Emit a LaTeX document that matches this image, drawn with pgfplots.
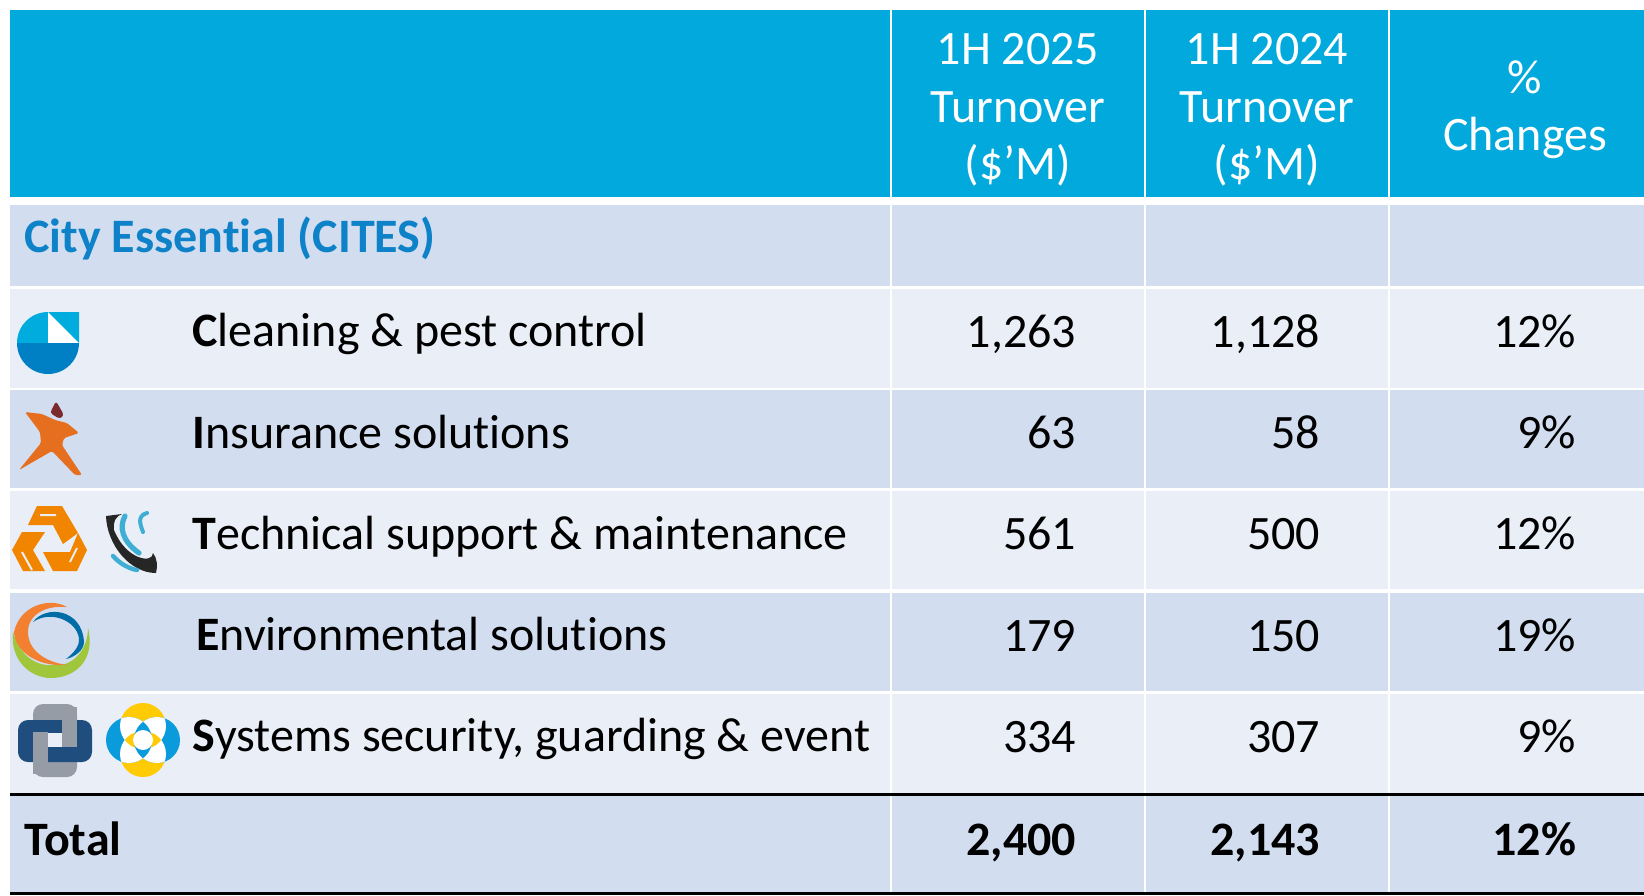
\documentclass[border=0pt]{standalone}
\usepackage{fontspec}
\setmainfont{Carlito}[Ligatures=NoCommon]
\usepackage{pgfplots}
\usepackage{pgfplotstable}
\pgfplotsset{compat=1.18}
\definecolor{hdr}{HTML}{02A9DD}
\definecolor{rowA}{HTML}{D2DDEF}
\definecolor{rowB}{HTML}{E9EEF7}
\definecolor{cites}{HTML}{0E82C8}
\definecolor{lgOrange}{HTML}{F28500}
\definecolor{lgBlue}{HTML}{0080C4}
\definecolor{lgSky}{HTML}{00ABDD}
\definecolor{lgNavy}{HTML}{1F4E7E}
\definecolor{lgGrey}{HTML}{969CA6}
\definecolor{lgYellow}{HTML}{FFCB05}
\definecolor{lgDrop}{HTML}{0A9BDC}
\definecolor{lgStar}{HTML}{E56F1F}
\definecolor{lgHead}{HTML}{7B2A2E}
\definecolor{lgGreen}{HTML}{A0C63C}
\definecolor{lgRing}{HTML}{F28030}
\definecolor{lgSwoosh}{HTML}{3FAED4}
\newcommand{\tf}{\fontsize{24}{28}\selectfont}

% y = text baseline of the row, in picture pixels
\pgfplotstableread{
y     t25  t24  pct
347   1263 1128 12
448.5 63   58   9
549.5 561  500  12
651   179  150  19
752   334  307  9
}\rows
\pgfplotstableread{
y     t25  t24  pct
855   2400 2143 12
}\totals

\begin{document}
\begin{tikzpicture}
\begin{axis}[
    scale only axis,
    width=822pt,
    height=447.5pt,
    xmin=0, xmax=1644,
    ymin=0, ymax=895,
    y dir=reverse,
    hide axis,
    clip=false,
    /pgf/number format/.cd, fixed, precision=0, 1000 sep={,}, assume math mode=true,
    /pgfplots/.cd,
    every node near coord/.append style={anchor=base east, inner sep=0pt, font=\tf, text=black},
]
% table cells
\fill[hdr] (10,10) rectangle (1644,197);
\fill[rowA] (10,205) rectangle (1644,286);
\fill[rowB] (10,289) rectangle (1644,388);
\fill[rowA] (10,390) rectangle (1644,488);
\fill[rowB] (10,491) rectangle (1644,589);
\fill[rowA] (10,593) rectangle (1644,691);
\fill[rowB] (10,694) rectangle (1644,793);
\fill[rowA] (10,794) rectangle (1644,893);
\draw[white, line width=1.25pt] (891,10) -- (891,197) (891,205) -- (891,893);
\draw[white, line width=1.25pt] (1145,10) -- (1145,197) (1145,205) -- (1145,893);
\draw[white, line width=1.25pt] (1389,10) -- (1389,197) (1389,205) -- (1389,893);
\draw[black, line width=1.5pt] (10,794) -- (1644,794);
\draw[black, line width=1.5pt] (10,893) -- (1644,893);

% header
\node[anchor=base, inner sep=0pt, text=white, font=\tf] at (1018,64) {1H 2025};
\node[anchor=base, inner sep=0pt, text=white, font=\tf] at (1018,122) {Turnover};
\node[anchor=base, inner sep=0pt, text=white, font=\tf] at (1018,179) {(\$’M)};
\node[anchor=base, inner sep=0pt, text=white, font=\tf] at (1267,64) {1H 2024};
\node[anchor=base, inner sep=0pt, text=white, font=\tf] at (1267,122) {Turnover};
\node[anchor=base, inner sep=0pt, text=white, font=\tf] at (1267,179) {(\$’M)};
\node[anchor=base, inner sep=0pt, text=white, font=\tf] at (1525,93) {\%};
\node[anchor=base, inner sep=0pt, text=white, font=\tf] at (1525,150) {Changes};

% row names
\node[anchor=base west, inner sep=0pt, text=cites, font=\tf\bfseries] at (24,252) {City Essential (CITES)};
\node[anchor=base west, inner sep=0pt, font=\tf] at (192,346) {\textbf{C}leaning \& pest control};
\node[anchor=base west, inner sep=0pt, font=\tf] at (192,448) {\textbf{I}nsurance solutions};
\node[anchor=base west, inner sep=0pt, font=\tf] at (192,549) {\textbf{T}echnical support \& maintenance};
\node[anchor=base west, inner sep=0pt, font=\tf] at (196,650) {\textbf{E}nvironmental solutions};
\node[anchor=base west, inner sep=0pt, font=\tf] at (192,751) {\textbf{S}ystems security, guarding \& event};
\node[anchor=base west, inner sep=0pt, font=\tf\bfseries] at (24,855) {Total};

% values
\addplot[draw=none, mark=none, point meta=explicit, nodes near coords]
  table[x expr=1076.5, y=y, meta=t25] {\rows};
\addplot[draw=none, mark=none, point meta=explicit, nodes near coords]
  table[x expr=1320.5, y=y, meta=t24] {\rows};
\addplot[draw=none, mark=none, point meta=explicit, nodes near coords={\pgfmathprintnumber{\pgfplotspointmeta}\%}]
  table[x expr=1576.5, y=y, meta=pct] {\rows};
\addplot[draw=none, mark=none, point meta=explicit, nodes near coords={\textbf{\pgfmathprintnumber{\pgfplotspointmeta}}}]
  table[x expr=1076.5, y=y, meta=t25] {\totals};
\addplot[draw=none, mark=none, point meta=explicit, nodes near coords={\textbf{\pgfmathprintnumber{\pgfplotspointmeta}}}]
  table[x expr=1320.5, y=y, meta=t24] {\totals};
\addplot[draw=none, mark=none, point meta=explicit, nodes near coords={\textbf{\pgfmathprintnumber{\pgfplotspointmeta}\%}}]
  table[x expr=1576.5, y=y, meta=pct] {\totals};

% logo: cleaning
\fill[lgSky] (17,343) arc[start angle=180, end angle=90, radius=15.5pt] -- (79,312) -- (79,343) -- cycle;
\fill[white] (48,312) -- (79,343) -- (48,343) -- cycle;
\fill[lgBlue] (17,343) arc[start angle=180, end angle=360, radius=15.5pt] -- cycle;

% logo: insurance
\fill[rounded corners=0.8pt, lgStar] (25,412) -- (42,414) -- (55,420) -- (67,423) -- (79,433) -- (64,438) -- (62,445) -- (82,475) -- (75,475) -- (52,451) -- (19,470) -- (41,443) -- (40,432) -- cycle;
\fill[rounded corners=1.5pt, lgHead] (56,401) -- (64,415) -- (60,419) -- (50,413) -- cycle;

% logo: technical
\fill[lgOrange] (37,506) -- (62,506) -- (78,533) -- (63,544) -- (53,525) -- (28,525) -- cycle;
\fill[lgOrange] (78,533) -- (87,550) -- (77,571) -- (53,571) -- (43,552) -- (70,552) -- cycle;
\fill[lgOrange] (45,532) -- (22,532) -- (12,550) -- (23,571) -- (45,571) -- (33,550) -- cycle;
\draw[rowB, line width=1pt] (40,515) -- (56,515) (77,548) -- (70,562) (22,552) -- (32,570);

% logo: maintenance
\fill[black!85] (106,516) .. controls (107,545) and (130,573) .. (156,573) .. controls (158,566) and (157,558) .. (153,553) .. controls (153,564) and (126,560) .. (114,530) .. controls (113,522) and (115,517) .. (122,514) -- cycle;
\draw[lgSwoosh, line width=2.6pt, line cap=round] (125,516) .. controls (119,527) and (122,541) .. (139,553);
\draw[lgSwoosh, line width=2pt, line cap=round] (147,513) .. controls (136,516) and (141,526) .. (143,532);
\draw[lgSwoosh, line width=2.2pt, line cap=round] (113,556) .. controls (120,564) and (130,569) .. (137,570);

% logo: environmental
\fill[lgGreen] (13,632) .. controls (10,660) and (30,678) .. (51,678) .. controls (75,678) and (96,660) .. (88,628) .. controls (88,650) and (72,667) .. (55,665) .. controls (35,667) and (20,655) .. (13,632);
\fill[lgRing] (67,607) .. controls (50,597) and (20,605) .. (14,632) .. controls (15,650) and (35,667) .. (67,665) .. controls (45,662) and (28,650) .. (28,632) .. controls (28,615) and (45,605) .. (67,607);
\fill[lgBlue!85!black] (33,622) .. controls (45,605) and (82,608) .. (84,642) .. controls (84,650) and (75,657) .. (66,659) .. controls (75,652) and (80,645) .. (79,638) .. controls (76,620) and (50,610) .. (33,622);

% logo: security link
\fill[lgGrey, rounded corners=5pt] (33,704) rectangle (77,777);
\fill[lgNavy, rounded corners=5pt] (18,720) rectangle (92,762);
\fill[lgGrey] (62,707) rectangle (77,747);
\fill[lgGrey] (33,732) rectangle (48,774);
\fill[rowB] (48,733) rectangle (62,747);

% logo: guarding
\def\ctop{(143,726) circle[radius=11.5pt]}
\def\cbot{(143,754) circle[radius=11.5pt]}
\def\clef{(129,740) circle[radius=11.5pt]}
\def\crig{(157,740) circle[radius=11.5pt]}
\fill[lgYellow] \ctop; \fill[lgYellow] \cbot;
\fill[lgDrop] \clef; \fill[lgDrop] \crig;
\begin{scope}\clip \ctop; \fill[white] \clef; \fill[white] \crig; \end{scope}
\begin{scope}\clip \cbot; \fill[white] \clef; \fill[white] \crig; \end{scope}
\begin{scope}\clip \ctop; \fill[lgYellow] \cbot; \end{scope}
\begin{scope}\clip \clef; \fill[lgDrop] \crig; \end{scope}
\fill[white] (143,740) circle[radius=5pt];
\end{axis}
\pgfresetboundingbox
\path[use as bounding box] (0,0) rectangle (822pt,447.5pt);
\end{tikzpicture}
\end{document}
